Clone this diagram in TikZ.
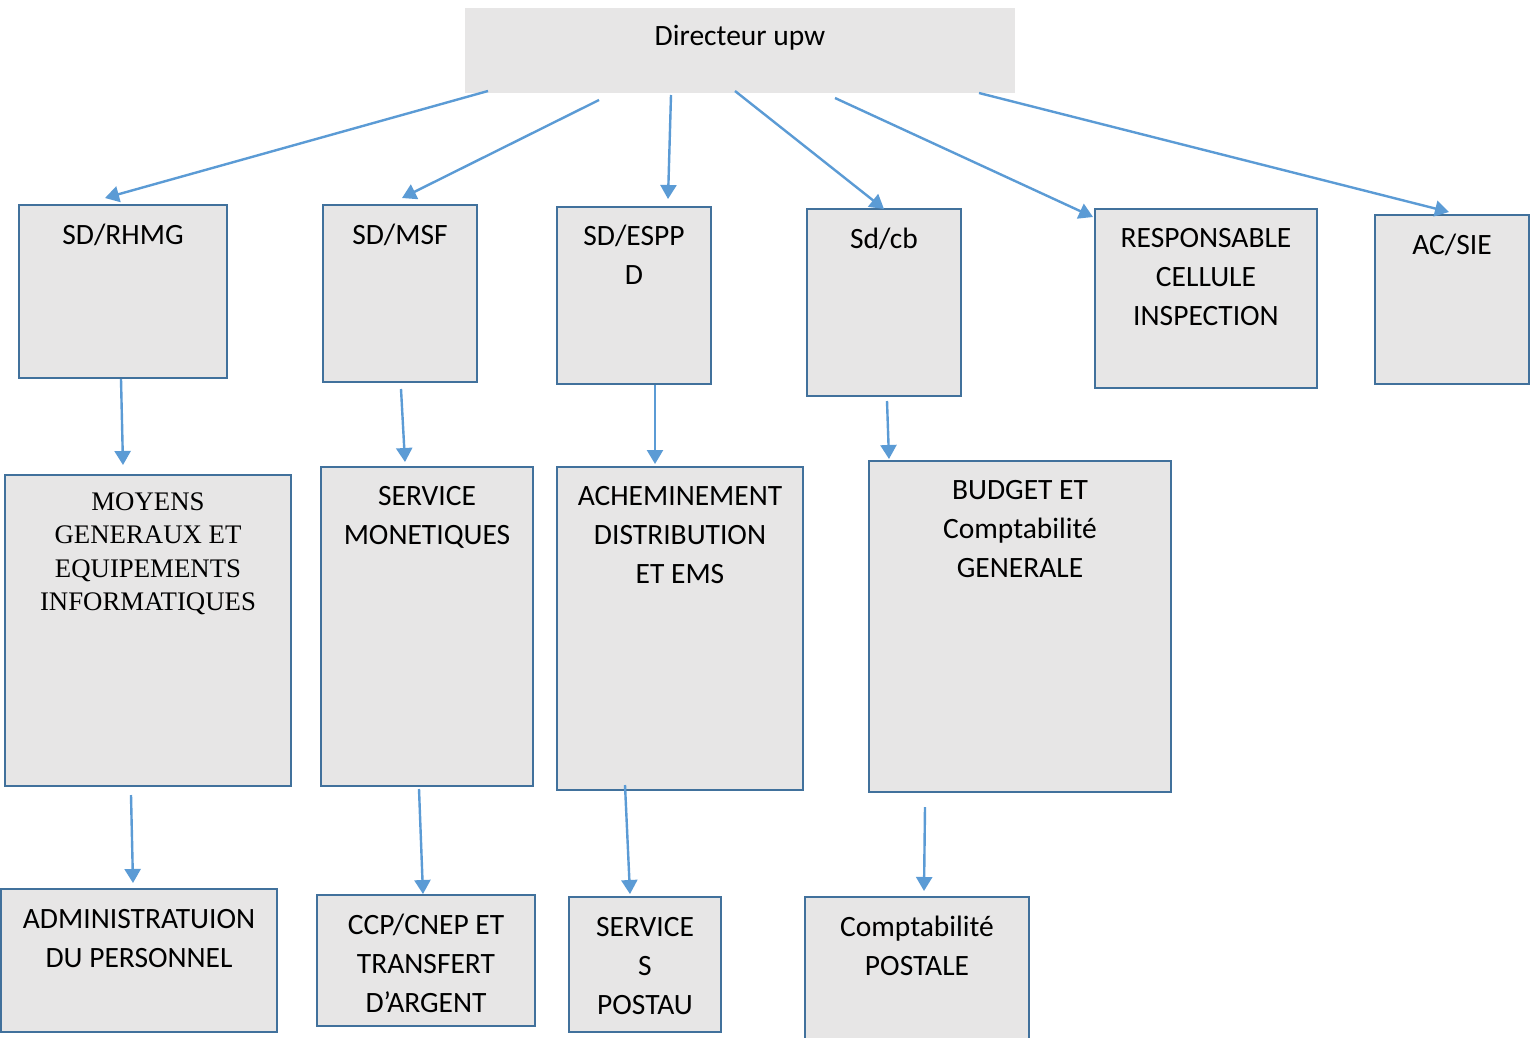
\documentclass[tikz,border=0pt]{standalone}
\usepackage{fontspec}
\setmainfont{Carlito}
\newfontfamily\serifface{Liberation Serif}
\usetikzlibrary{arrows.meta}
\definecolor{boxfill}{HTML}{E7E6E6}
\definecolor{boxline}{HTML}{41719C}
\definecolor{arrowblue}{HTML}{5B9BD5}
% first-line strut: fixes the distance from a node's top to its first baseline
\newcommand{\fl}{\rule{0pt}{24pt}}
\tikzset{
  orgbox/.style={draw=boxline, line width=2.6pt, fill=boxfill, rectangle,
    inner sep=0pt, outer sep=0pt, anchor=north west},
  headbox/.style={fill=boxfill, rectangle, inner sep=0pt, outer sep=0pt,
    anchor=north west},
  lbl/.style={anchor=north, inner sep=0pt, align=center,
    font=\fontsize{29.5}{39}\selectfont},
  lblserif/.style={anchor=north, inner sep=0pt, align=center,
    font=\serifface\fontsize{26.8}{33.5}\selectfont},
  link/.style={draw=arrowblue, line width=2.4pt,
    -{Triangle[length=14pt,width=16pt]}},
}
\begin{document}
\begin{tikzpicture}[x=1pt, y=-1pt]
\clip (0,0) rectangle (1539,1037);
\fill[white] (0,0) rectangle (1539,1037);

% boxes
\node[headbox, minimum width=550pt, minimum height=85pt] (dir) at (465,8) {};
\node[orgbox, minimum width=208pt, minimum height=173pt] (rhmg) at (19,205) {};
\node[orgbox, minimum width=154pt, minimum height=177pt] (msf) at (323,205) {};
\node[orgbox, minimum width=154pt, minimum height=177pt] (espp) at (557,207) {};
\node[orgbox, minimum width=154pt, minimum height=187pt] (sdcb) at (807,209) {};
\node[orgbox, minimum width=222pt, minimum height=179pt] (resp) at (1095,209) {};
\node[orgbox, minimum width=154pt, minimum height=169pt] (acsie) at (1375,215) {};
\node[orgbox, minimum width=286pt, minimum height=311pt] (moyens) at (5,475) {};
\node[orgbox, minimum width=212pt, minimum height=319pt] (monet) at (321,467) {};
\node[orgbox, minimum width=246pt, minimum height=323pt] (achem) at (557,467) {};
\node[orgbox, minimum width=302pt, minimum height=331pt] (budget) at (869,461) {};
\node[orgbox, minimum width=276pt, minimum height=143pt] (admin) at (1,889) {};
\node[orgbox, minimum width=218pt, minimum height=131pt] (ccp) at (317,895) {};
\node[orgbox, minimum width=152pt, minimum height=135pt] (postau) at (569,897) {};
\node[orgbox, minimum width=224pt, minimum height=160pt] (cpost) at (805,897) {};

% labels (top of node = first baseline - 24pt)
\node[lbl] (tdir) at (740,21) {\fl Directeur upw};
\node[lbl] (trhmg) at (123,220) {\fl SD/RHMG};
\node[lbl] (tmsf) at (400,220) {\fl SD/MSF};
\node[lbl] (tespp) at (634,221) {\fl SD/ESPP\\D};
\node[lbl] (tsdcb) at (884,224) {\fl Sd/cb};
\node[lbl] (tresp) at (1206,223) {\fl RESPONSABLE\\CELLULE\\INSPECTION};
\node[lbl] (tacsie) at (1452,230) {\fl AC/SIE};
\node[lblserif] (tmoyens) at (148,486) {\fl MOYENS\\GENERAUX ET\\EQUIPEMENTS\\INFORMATIQUES};
\node[lbl] (tmonet) at (427,481) {\fl SERVICE\\MONETIQUES};
\node[lbl] (tachem) at (680,481) {\fl ACHEMINEMENT\\DISTRIBUTION\\ET EMS};
\node[lbl] (tbudget) at (1020,475) {\fl BUDGET ET\\Comptabilité\\GENERALE};
\node[lbl] (tadmin) at (139,904) {\fl ADMINISTRATUION\\DU PERSONNEL};
\node[lbl] (tccp) at (426,910) {\fl CCP/CNEP ET\\TRANSFERT\\D’ARGENT};
\node[lbl] (tpostau) at (645,912) {\fl SERVICE\\S\\POSTAU};
\node[lbl] (tcpost) at (917,912) {\fl Comptabilité\\POSTALE};

% connector end points
\coordinate (d1) at (488,91);   \coordinate (e1) at (105,198);
\coordinate (d2) at (599,100);  \coordinate (e2) at (402,198);
\coordinate (d3) at (671,95);   \coordinate (e3) at (668,199);
\coordinate (d4) at (735,91);   \coordinate (e4) at (884,209);
\coordinate (d5) at (835,98);   \coordinate (e5) at (1093,217);
\coordinate (d6) at (979,93);   \coordinate (e6) at (1449,212);
\coordinate (f1) at (121,379);  \coordinate (g1) at (123,465);
\coordinate (f2) at (401,389);  \coordinate (g2) at (405,462);
\coordinate (f3) at (655,385);  \coordinate (g3) at (655,464);
\coordinate (f4) at (887,401);  \coordinate (g4) at (889,459);
\coordinate (h1) at (131,795);  \coordinate (k1) at (133,883);
\coordinate (h2) at (419,789);  \coordinate (k2) at (423,894);
\coordinate (h3) at (625,785);  \coordinate (k3) at (630,894);
\coordinate (h4) at (925,807);  \coordinate (k4) at (924,891);

% connectors
\foreach \a/\b in {d1/e1,d2/e2,d3/e3,d4/e4,d5/e5,d6/e6,
                   f1/g1,f2/g2,f3/g3,f4/g4,h1/k1,h2/k2,h3/k3,h4/k4}
  \draw[link] (\a) -- (\b);
\end{tikzpicture}
\end{document}
